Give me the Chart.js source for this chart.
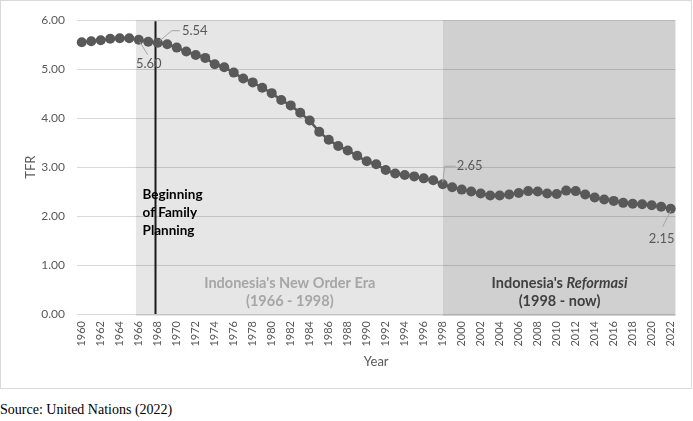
<!DOCTYPE html>
<html>
<head>
<meta charset="utf-8">
<script src="https://cdn.jsdelivr.net/npm/chart.js@4.4.0/dist/chart.umd.min.js"></script>
<style>
body { margin: 0; background: #fff; }
#box { position: absolute; left: 0; top: 0; width: 690px; height: 387px; border: 1px solid #d9d9d9; }
#source { position: absolute; left: 0; top: 402px; font: 14px "Liberation Serif", "Times New Roman", serif; color: #000; }
</style>
</head>
<body>
<div id="box"><canvas id="tfrChart" width="690" height="387"></canvas></div>
<div id="source">Source: United Nations (2022)</div>
<script>
const years = ['1960', '1961', '1962', '1963', '1964', '1965', '1966', '1967', '1968', '1969',
    '1970', '1971', '1972', '1973', '1974', '1975', '1976', '1977', '1978', '1979',
    '1980', '1981', '1982', '1983', '1984', '1985', '1986', '1987', '1988', '1989',
    '1990', '1991', '1992', '1993', '1994', '1995', '1996', '1997', '1998', '1999',
    '2000', '2001', '2002', '2003', '2004', '2005', '2006', '2007', '2008', '2009',
    '2010', '2011', '2012', '2013', '2014', '2015', '2016', '2017', '2018', '2019',
    '2020', '2021', '2022'];
const tfr = [5.55, 5.57, 5.59, 5.62, 5.63, 5.63, 5.60, 5.56, 5.54, 5.51,
    5.44, 5.36, 5.29, 5.23, 5.10, 5.04, 4.93, 4.81, 4.73, 4.62,
    4.51, 4.37, 4.26, 4.11, 3.95, 3.72, 3.56, 3.43, 3.34, 3.23,
    3.12, 3.06, 2.94, 2.87, 2.84, 2.81, 2.77, 2.73, 2.65, 2.59,
    2.54, 2.50, 2.46, 2.42, 2.42, 2.44, 2.47, 2.51, 2.50, 2.46,
    2.45, 2.52, 2.51, 2.44, 2.38, 2.34, 2.31, 2.27, 2.25, 2.24,
    2.22, 2.19, 2.15];
const yTicks = [0, 1, 2, 3, 4, 5, 6];
const labelledYears = ['1966', '1968', '1998', '2022'];

// where things sit, in category index / TFR units
const eras = {newOrderStart: 5.7, reformasiStart: 38, familyPlanning: 7.7};
// label text offsets and leader lines, in px from the point
const labelStyle = {
    '1966': {dx: 10, dy: 24, leader: [[1, 2], [9, 15]]},
    '1968': {dx: 37, dy: -12, leader: [[2, -2], [14, -12], [22, -12]]},
    '1998': {dx: 27, dy: -18, leader: [[0, -2], [2, -18], [13, -18]]},
    '2022': {dx: -9, dy: 30, leader: [[0, 2], [-8, 18]]}
};

Chart.defaults.font.family = "Lato, 'Open Sans', sans-serif";

const annotations = {
    id: 'annotations',
    beforeDraw(chart) {
        const {ctx, chartArea: a, scales: {x}} = chart;
        const x1 = x.getPixelForValue(eras.newOrderStart);
        const x2 = x.getPixelForValue(eras.reformasiStart);
        ctx.save();
        ctx.fillStyle = '#e6e6e6';
        ctx.fillRect(x1, a.top, x2 - x1, a.bottom - a.top + 2);
        ctx.fillStyle = '#d0d0d0';
        ctx.fillRect(x2, a.top, a.right - x2, a.bottom - a.top + 2);
        ctx.restore();
    },
    beforeDatasetsDraw(chart) {
        const {ctx, chartArea: a, scales: {x, y}} = chart;
        ctx.save();
        // family planning line
        const lx = Math.round(x.getPixelForValue(eras.familyPlanning)) + 0.5;
        ctx.strokeStyle = '#1a1a1a';
        ctx.lineWidth = 2;
        ctx.beginPath();
        ctx.moveTo(lx, a.top + 1);
        ctx.lineTo(lx, a.bottom);
        ctx.stroke();

        ctx.fillStyle = '#000';
        ctx.font = "bold 13.5px Lato, 'Open Sans', sans-serif";
        ctx.textAlign = 'left';
        ctx.textBaseline = 'middle';
        const bx = x.getPixelForValue(6.4);
        ctx.fillText('Beginning', bx, y.getPixelForValue(2.44));
        ctx.fillText('of Family', bx, y.getPixelForValue(2.07));
        ctx.fillText('Planning', bx, y.getPixelForValue(1.70));

        // era captions
        const capFont = "bold 14.5px Lato, 'Open Sans', sans-serif";
        ctx.font = capFont;
        ctx.textAlign = 'center';
        ctx.fillStyle = '#a6a6a6';
        ctx.fillText("Indonesia's New Order Era", x.getPixelForValue(21.9), y.getPixelForValue(0.63));
        ctx.fillText('(1966 - 1998)', x.getPixelForValue(21.9), y.getPixelForValue(0.25));

        ctx.fillStyle = '#404040';
        const cx = x.getPixelForValue(50.3);
        const p1 = "Indonesia's ";
        const p2 = 'Reformasi';
        const w1 = ctx.measureText(p1).width;
        ctx.font = "italic " + capFont;
        const w2 = ctx.measureText(p2).width;
        const sx = cx - (w1 + w2) / 2;
        const ry = y.getPixelForValue(0.63);
        ctx.textAlign = 'left';
        ctx.fillText(p2, sx + w1, ry);
        ctx.font = capFont;
        ctx.fillText(p1, sx, ry);
        ctx.textAlign = 'center';
        ctx.fillText('(1998 - now)', cx, y.getPixelForValue(0.25));
        ctx.restore();
    },
    afterDatasetsDraw(chart) {
        const {ctx} = chart;
        const meta = chart.getDatasetMeta(0);
        ctx.save();
        ctx.font = "13px Lato, 'Open Sans', sans-serif";
        ctx.textAlign = 'center';
        ctx.textBaseline = 'middle';
        labelledYears.forEach(yr => {
            const i = years.indexOf(yr);
            const pt = meta.data[i];
            const st = labelStyle[yr];
            ctx.strokeStyle = '#a6a6a6';
            ctx.lineWidth = 1;
            ctx.beginPath();
            st.leader.forEach(([dx, dy], k) => {
                if (k === 0) ctx.moveTo(pt.x + dx, pt.y + dy);
                else ctx.lineTo(pt.x + dx, pt.y + dy);
            });
            ctx.stroke();
            ctx.fillStyle = '#595959';
            ctx.fillText(tfr[i].toFixed(2), pt.x + st.dx, pt.y + st.dy);
        });
        ctx.restore();
    }
};

const ctx = document.getElementById('tfrChart').getContext('2d');
const tfrChart = new Chart(ctx, {
    type: 'line',
    data: {
        labels: years,
        datasets: [{
            label: 'TFR',
            data: tfr,
            borderColor: '#595959',
            borderWidth: 2.5,
            backgroundColor: '#595959',
            pointBackgroundColor: '#595959',
            pointBorderWidth: 0,
            pointRadius: 5,
            tension: 0
        }]
    },
    options: {
        responsive: false,
        animation: false,
        layout: {padding: {left: 0, right: 14, top: 16, bottom: 0}},
        plugins: {
            legend: {display: false},
            tooltip: {enabled: false}
        },
        scales: {
            x: {
                offset: true,
                grid: {display: false, drawTicks: false},
                border: {display: false},
                ticks: {
                    autoSkip: false,
                    maxRotation: 90,
                    minRotation: 90,
                    padding: 7,
                    color: '#595959',
                    font: {size: 11, family: "'Liberation Sans Narrow', Lato, sans-serif"},
                    callback: (v, i) => (i % 2 === 0 ? years[i] : '')
                },
                title: {display: true, text: 'Year', color: '#595959', font: {size: 13}, padding: {top: 0, bottom: 18}},
                afterFit: s => { s.height = 74; }
            },
            y: {
                min: 0,
                max: 6,
                afterBuildTicks: s => { s.ticks = yTicks.map(v => ({value: v})); },
                ticks: {
                    padding: 12,
                    color: '#595959',
                    font: {size: 12},
                    callback: v => Number(v).toFixed(2)
                },
                grid: {color: 'rgba(0,0,0,0.15)', drawTicks: false},
                border: {display: false},
                title: {display: true, text: 'TFR', color: '#595959', font: {size: 13}, padding: {top: 22, bottom: 0}},
                afterFit: s => { s.width = 76; }
            }
        }
    },
    plugins: [annotations]
});
</script>
</body>
</html>
